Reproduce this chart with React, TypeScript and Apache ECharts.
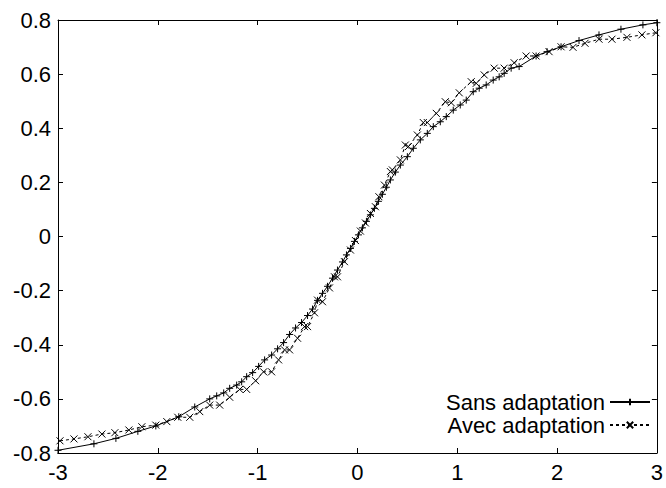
import React, { useEffect, useRef } from "react";
import * as echarts from "echarts";

const sansX = [
  -3.0, -2.64, -2.42, -2.2, -2.02, -1.79, -1.63, -1.48, -1.41, -1.34, -1.28, -1.21, -1.16, -1.11, -1.05,
  -0.99, -0.93, -0.86, -0.8, -0.74, -0.68, -0.62, -0.56, -0.5, -0.45, -0.4, -0.35, -0.3, -0.25, -0.2,
  -0.15, -0.11, -0.07, -0.03, 0.01, 0.05, 0.09, 0.13, 0.17, 0.21, 0.25, 0.29, 0.33, 0.38, 0.43, 0.5,
  0.56, 0.63, 0.7, 0.76, 0.83, 0.89, 0.96, 1.03, 1.09, 1.16, 1.22, 1.29, 1.36, 1.42, 1.47, 1.54, 1.62,
  1.79, 1.9, 2.04, 2.22, 2.42, 2.64, 2.86, 3.0,
];
const sansY = [
  -0.79, -0.766, -0.746, -0.72, -0.7, -0.666, -0.63, -0.6, -0.589, -0.578, -0.561, -0.549, -0.537, -0.518, -0.503,
  -0.48, -0.456, -0.438, -0.415, -0.392, -0.362, -0.338, -0.318, -0.292, -0.268, -0.236, -0.21, -0.184, -0.154, -0.124,
  -0.094, -0.068, -0.044, -0.018, 0.006, 0.032, 0.056, 0.08, 0.104, 0.13, 0.156, 0.182, 0.209, 0.238, 0.264, 0.295,
  0.326, 0.357, 0.381, 0.406, 0.424, 0.443, 0.467, 0.486, 0.504, 0.535, 0.548, 0.56, 0.578, 0.59, 0.603, 0.622, 0.628,
  0.667, 0.683, 0.701, 0.724, 0.745, 0.766, 0.782, 0.79,
];

const avecX = [
  -2.98, -2.84, -2.7, -2.56, -2.43, -2.29, -2.16, -2.02, -1.91, -1.8, -1.68, -1.58, -1.48, -1.38, -1.28, -1.18,
  -1.11, -1.02, -0.94, -0.86, -0.79, -0.73, -0.68, -0.6, -0.53, -0.5, -0.43, -0.4, -0.35, -0.28, -0.23, -0.2,
  -0.13, -0.07, -0.02, 0.03, 0.08, 0.13, 0.18, 0.215, 0.27, 0.33, 0.35, 0.43, 0.48, 0.51, 0.6, 0.66, 0.7, 0.79,
  0.88, 0.94, 1.02, 1.14, 1.19, 1.27, 1.37, 1.47, 1.57, 1.69, 1.79, 1.92, 2.04, 2.16, 2.28, 2.42, 2.55, 2.7,
  2.85, 2.99,
];
const avecY = [
  -0.755, -0.748, -0.74, -0.73, -0.725, -0.715, -0.703, -0.697, -0.684, -0.668, -0.668, -0.647, -0.623, -0.623, -0.594, -0.565,
  -0.565, -0.533, -0.5, -0.5, -0.456, -0.419, -0.419, -0.376, -0.333, -0.333, -0.282, -0.235, -0.241, -0.19, -0.149, -0.149,
  -0.093, -0.05, -0.015, 0.02, 0.05, 0.085, 0.11, 0.147, 0.19, 0.24, 0.246, 0.283, 0.338, 0.332, 0.375, 0.421, 0.421, 0.455,
  0.498, 0.494, 0.531, 0.572, 0.566, 0.597, 0.622, 0.622, 0.642, 0.667, 0.667, 0.683, 0.701, 0.699, 0.714, 0.729, 0.729, 0.736,
  0.745, 0.753,
];

const yTicks = ["-0.8", "-0.6", "-0.4", "-0.2", "0", "0.2", "0.4", "0.6", "0.8"];
const xTicks = ["-3", "-2", "-1", "0", "1", "2", "3"];

const FONT = "Liberation Sans";
const FS = 22;
const PLUS = "path://M0,5L10,5M5,0L5,10";
const CROSS = "path://M0,0L10,10M0,10L10,0";

export default function App() {
  const ref = useRef<HTMLDivElement>(null);
  useEffect(() => {
    if (!ref.current) return;
    const chart = echarts.init(ref.current, null, { renderer: "svg" });
    const axisLine = { show: true, onZero: false, lineStyle: { color: "#000", width: 1 } };
    const tick = { show: true, inside: true, length: 5, lineStyle: { color: "#000" } };
    const fmtY = (v: number) => {
      const i = Math.round((v + 0.8) / 0.2);
      return yTicks[i] ?? "";
    };
    const fmtX = (v: number) => {
      const i = Math.round(v + 3);
      return xTicks[i] ?? "";
    };
    chart.setOption({
      animation: false,
      textStyle: { fontFamily: FONT, fontSize: FS },
      grid: { left: 58, right: 4, top: 20, bottom: 35, containLabel: false },
      xAxis: [
        {
          type: "value", min: -3, max: 3, interval: 1, position: "bottom",
          axisLine, axisTick: tick,
          axisLabel: { show: true, color: "#000", fontSize: FS, fontFamily: FONT, margin: 8, formatter: fmtX },
          splitLine: { show: false },
        },
        {
          type: "value", min: -3, max: 3, interval: 1, position: "top",
          axisLine, axisTick: tick, axisLabel: { show: false }, splitLine: { show: false },
        },
      ],
      yAxis: [
        {
          type: "value", min: -0.8, max: 0.8, interval: 0.2, position: "left",
          axisLine, axisTick: tick,
          axisLabel: { show: true, color: "#000", fontSize: FS, fontFamily: FONT, margin: 7, formatter: fmtY },
          splitLine: { show: false },
        },
        {
          type: "value", min: -0.8, max: 0.8, interval: 0.2, position: "right",
          axisLine, axisTick: tick, axisLabel: { show: false }, splitLine: { show: false },
        },
      ],
      legend: {
        orient: "vertical",
        right: 15,
        top: 391,
        align: "right",
        itemWidth: 40,
        itemHeight: 8,
        itemGap: 1,
        padding: 0,
        selectedMode: false,
        textStyle: { color: "#000", fontSize: FS, fontFamily: FONT, lineHeight: 20 },
        data: ["Sans adaptation", "Avec adaptation"],
      },
      series: [
        {
          name: "Sans adaptation",
          type: "line",
          data: sansX.map((x, i) => [x, sansY[i]]),
          symbol: PLUS,
          symbolSize: 7,
          showAllSymbol: true,
          lineStyle: { color: "#000", width: 1, type: "solid" },
          itemStyle: { color: "#000", borderColor: "#000", borderWidth: 1 },
          emphasis: { disabled: true },
          z: 3,
        },
        {
          name: "Avec adaptation",
          type: "line",
          data: avecX.map((x, i) => [x, avecY[i]]),
          symbol: CROSS,
          symbolSize: 7,
          showAllSymbol: true,
          lineStyle: { color: "#000", width: 1, type: [3, 3] },
          itemStyle: { color: "#000", borderColor: "#000", borderWidth: 1 },
          emphasis: { disabled: true },
          z: 2,
        },
      ],
    });
    return () => chart.dispose();
  }, []);
  return <div ref={ref} style={{ width: 666, height: 488, position: "absolute", left: 0, top: 0 }} />;
}
